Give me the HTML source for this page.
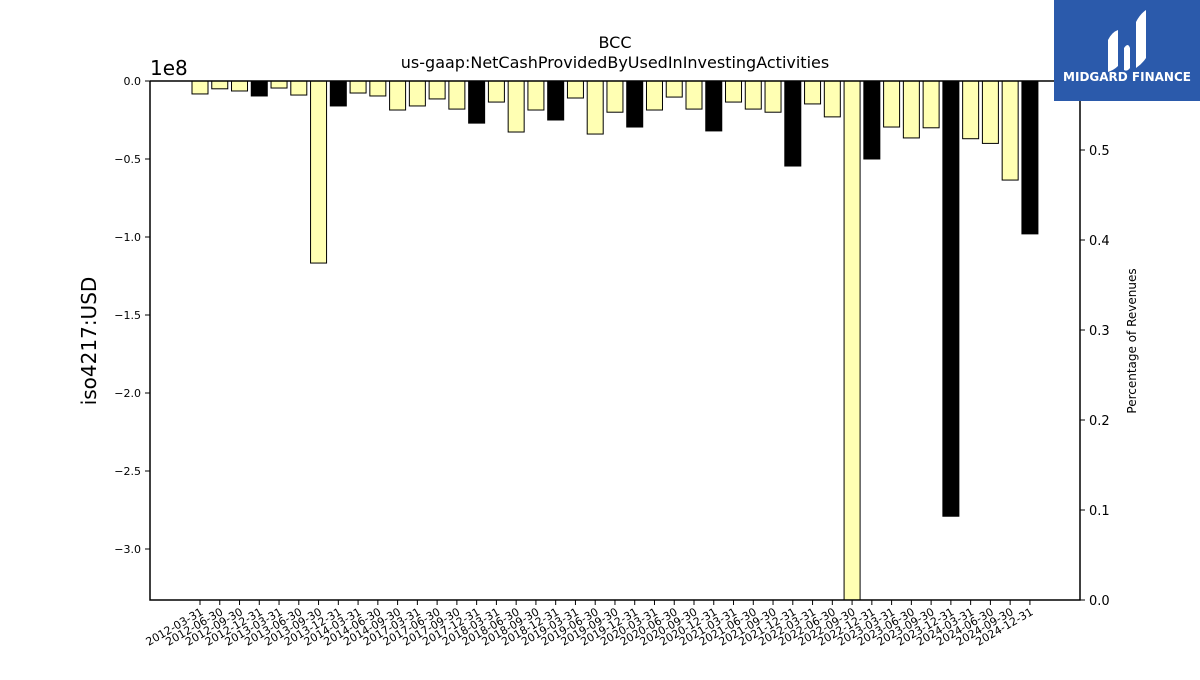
<!DOCTYPE html>
<html><head><meta charset="utf-8"><style>
body{margin:0;background:#fff;width:1200px;height:675px;overflow:hidden;font-family:"Liberation Sans","DejaVu Sans",sans-serif}
svg text{font-family:"DejaVu Sans","Liberation Sans",sans-serif}
</style></head><body>
<svg id="chart" width="1200" height="675" xmlns="http://www.w3.org/2000/svg">
<text x="615" y="48" text-anchor="middle" font-size="16">BCC</text>
<text x="615" y="68" text-anchor="middle" font-size="16">us-gaap:NetCashProvidedByUsedInInvestingActivities</text>
<text transform="translate(96,341) rotate(-90)" text-anchor="middle" font-size="20">iso4217:USD</text>
<text x="150" y="75" font-size="20">1e8</text>
<text transform="translate(1136,341) rotate(-90)" text-anchor="middle" font-size="12">Percentage of Revenues</text>
<g id="bars"></g>
<g id="axes"></g>
<g>
<rect x="1054" y="0" width="146" height="101" fill="#2b5aab"/>
<path d="M1108 40 q4-8 10-10 v36 q-4 4-10 6z M1124 48 q4-6 6 0 v20 q-3 4-6 2z M1136 22 q4-8 10-12 v48 q-4 6-10 10z" fill="#fff"/>
<text x="1127" y="81" text-anchor="middle" font-size="12" font-weight="bold" fill="#fff" font-family="Liberation Sans">MIDGARD FINANCE</text>
</g>
</svg>
<script>
const categories=["2012-03-31","2012-06-30","2012-09-30","2012-12-31","2013-03-31","2013-06-30","2013-09-30","2013-12-31","2014-03-31","2014-06-30","2014-09-30","2017-03-31","2017-06-30","2017-09-30","2017-12-31","2018-03-31","2018-06-30","2018-09-30","2018-12-31","2019-03-31","2019-06-30","2019-09-30","2019-12-31","2020-03-31","2020-06-30","2020-09-30","2020-12-31","2021-03-31","2021-06-30","2021-09-30","2021-12-31","2022-03-31","2022-06-30","2022-09-30","2022-12-31","2023-03-31","2023-06-30","2023-09-30","2023-12-31","2024-03-31","2024-06-30","2024-09-30","2024-12-31"];
const values=[-0.083,-0.05,-0.064,-0.096,-0.045,-0.09,-1.167,-0.16,-0.077,-0.096,-0.186,-0.16,-0.115,-0.18,-0.27,-0.135,-0.327,-0.186,-0.25,-0.109,-0.34,-0.2,-0.295,-0.186,-0.103,-0.18,-0.32,-0.135,-0.18,-0.2,-0.545,-0.147,-0.23,-3.4,-0.5,-0.295,-0.365,-0.3,-2.79,-0.37,-0.4,-0.635,-0.98];
const isAnnual=[0,0,0,1,0,0,0,1,0,0,0,0,0,0,1,0,0,0,1,0,0,0,1,0,0,0,1,0,0,0,1,0,0,0,1,0,0,0,1,0,0,0,1];
const leftTicks=[0,-0.5,-1.0,-1.5,-2.0,-2.5,-3.0];
const rightTicks=[0,0.1,0.2,0.3,0.4,0.5];
const NS="http://www.w3.org/2000/svg";
const L=150,R=1080,T=81,B=600;
const yMin=-(B-T)/156, yMax=0;
const y=v=>T+(yMax-v)/(yMax-yMin)*(B-T);
const y2=v=>B-v*900;
const step=19.76, x0=200;
const x=i=>x0+i*step;
function mk(tag,attrs,parent){const e=document.createElementNS(NS,tag);for(const k in attrs)e.setAttribute(k,attrs[k]);parent.appendChild(e);return e;}
const bars=document.getElementById('bars'),axes=document.getElementById('axes');
values.forEach((v,i)=>{
 const yb=Math.min(y(v),B);
 const r=mk('rect',{x:x(i)-8,y:T,width:16,height:Math.max(0,yb-T),fill:isAnnual[i]?'#000':'#ffffb3',stroke:'#000','stroke-width':1},bars);
 
 
});
const frame=mk('path',{d:`M${L} ${T} V${B} H${R} V${T}`,fill:'none',stroke:'#000','stroke-width':1.5},axes);


const zl=mk('line',{x1:L,x2:R,y1:T,y2:T,stroke:'#000','stroke-width':1.5},axes);


leftTicks.forEach(t=>{
 const yy=y(t);
 mk('line',{x1:L-5,x2:L,y1:yy,y2:yy,stroke:'#000'},axes);
 const tx=mk('text',{x:L-9,y:yy+4,'text-anchor':'end','font-size':11},axes);
 tx.textContent=(t===0?'0.0':t.toFixed(1).replace('-','\u2212'));
 
 
});
rightTicks.forEach(t=>{
 const yy=y2(t);
 mk('line',{x1:R,x2:R+5,y1:yy,y2:yy,stroke:'#000'},axes);
 const tx=mk('text',{x:R+9,y:yy+5,'font-size':13},axes);
 tx.textContent=t.toFixed(1);
 
 
});
categories.forEach((c,i)=>{
 const xx=x(i);
 mk('line',{x1:xx,x2:xx,y1:B,y2:B+5,stroke:'#000'},axes);
 const tx=mk('text',{transform:`translate(${xx+4},${B+14}) rotate(-30)`,'text-anchor':'end','font-size':11},axes);
 tx.textContent=c;
 
 
});
</script>
</body></html>
